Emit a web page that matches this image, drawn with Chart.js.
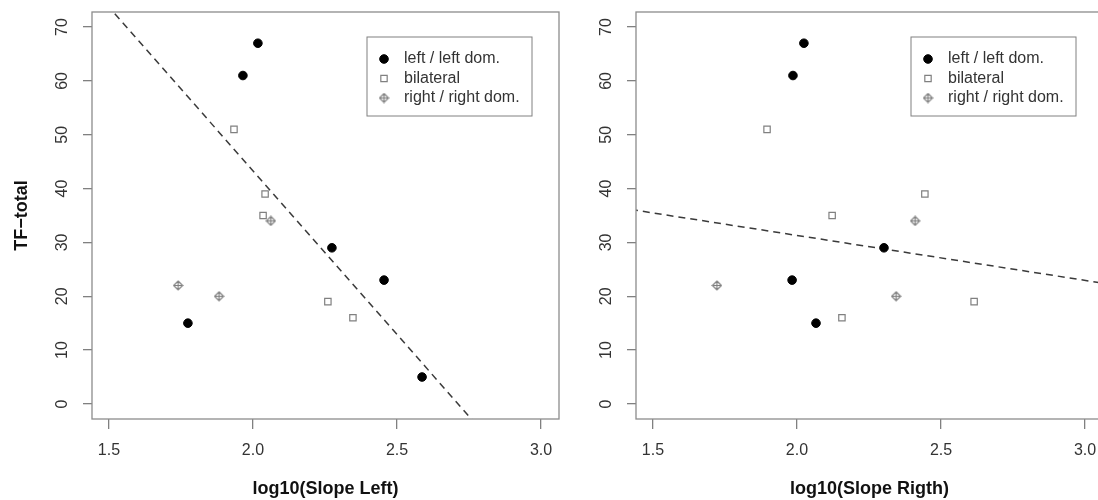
<!DOCTYPE html>
<html>
<head>
<meta charset="utf-8">
<script src="https://cdn.jsdelivr.net/npm/chart.js@4"></script>
<style>
  html, body { margin: 0; padding: 0; background: #fff; overflow: hidden; }
  body { width: 1098px; height: 500px; position: relative; }
  .panel { position: absolute; top: 0; height: 500px; }
  #leftPanel { left: 0; width: 580px; }
  #rightPanel { left: 580px; width: 530px; }
</style>
</head>
<body>
<div class="panel" id="leftPanel"><canvas id="slopeLeft"></canvas></div>
<div class="panel" id="rightPanel"><canvas id="slopeRight"></canvas></div>
<script>
const groupNames = ['left / left dom.', 'bilateral', 'right / right dom.'];
const xTicks = [1.5, 2.0, 2.5, 3.0];
const yTicks = [0, 10, 20, 30, 40, 50, 60, 70];

// log10(Slope Left) vs TF-total
const leftDomSlopeL = [1.965, 2.017, 1.774, 2.274, 2.455, 2.587];
const leftDomTfL = [61, 67, 15, 29, 23, 5];
const bilatSlopeL = [1.934, 2.042, 2.035, 2.260, 2.347];
const bilatTfL = [51, 39, 35, 19, 16];
const rightDomSlopeL = [2.062, 1.740, 1.882];
const rightDomTfL = [34, 22, 20];

// log10(Slope Rigth) vs TF-total
const leftDomSlopeR = [2.024, 1.986, 1.983, 2.066, 2.302];
const leftDomTfR = [67, 61, 23, 15, 29];
const bilatSlopeR = [1.896, 2.122, 2.444, 2.156, 2.615];
const bilatTfR = [51, 35, 39, 16, 19];
const rightDomSlopeR = [1.722, 2.410, 2.344];
const rightDomTfR = [22, 34, 20];

// dashed fit lines: [intercept, slope]
const fitLeft = [164.9, -60.8];
const fitRight = [48.0, -8.35];

Chart.defaults.font.family = '"Liberation Sans", Arial, sans-serif';

const toPoints = (xs, ys) => xs.map((x, i) => ({x: x, y: ys[i]}));

// open diamond with a cross inside
const diamondPlus = (() => {
  const c = document.createElement('canvas');
  c.width = c.height = 11;
  const g = c.getContext('2d');
  g.strokeStyle = '#808080';
  g.lineWidth = 1.2;
  g.beginPath();
  g.moveTo(5.5, 1); g.lineTo(10, 5.5); g.lineTo(5.5, 10); g.lineTo(1, 5.5); g.closePath();
  g.moveTo(5.5, 1); g.lineTo(5.5, 10);
  g.moveTo(1, 5.5); g.lineTo(10, 5.5);
  g.stroke();
  return c;
})();

const groupStyles = [
  {pointStyle: 'circle', radius: 4.3, backgroundColor: '#000', borderColor: '#000', borderWidth: 1},
  {pointStyle: 'rect', radius: 4.5, backgroundColor: '#fff', borderColor: '#808080', borderWidth: 1.2},
  {pointStyle: diamondPlus, radius: 5, backgroundColor: '#fff', borderColor: '#808080', borderWidth: 1.2}
];

function groupDataset(i, xs, ys) {
  const s = groupStyles[i];
  return {
    type: 'scatter',
    label: groupNames[i],
    data: toPoints(xs, ys),
    pointStyle: s.pointStyle,
    pointRadius: s.radius,
    backgroundColor: s.backgroundColor,
    borderColor: s.borderColor,
    borderWidth: s.borderWidth
  };
}

function fitDataset(coef) {
  const xs = [1.3, 3.2];
  return {
    type: 'line',
    label: 'fit',
    data: xs.map(x => ({x: x, y: coef[0] + coef[1] * x})),
    borderColor: '#3a3a3a',
    borderWidth: 1.5,
    borderDash: [7, 5],
    pointRadius: 0,
    fill: false
  };
}

// plot box and the inset legend
const frame = {
  id: 'frame',
  afterDatasetsDraw(chart) {
    const {ctx, chartArea: a} = chart;
    ctx.save();
    ctx.strokeStyle = '#8c8c8c';
    ctx.lineWidth = 1.3;
    ctx.strokeRect(a.left, a.top, a.right - a.left, a.bottom - a.top);

    const bw = 165, bh = 79;
    const bx = a.right - 27 - bw, by = a.top + 25;
    ctx.fillStyle = '#fff';
    ctx.fillRect(bx, by, bw, bh);
    ctx.strokeStyle = '#808080';
    ctx.lineWidth = 1;
    ctx.strokeRect(bx, by, bw, bh);
    ctx.font = '16px "Liberation Sans", Arial, sans-serif';
    ctx.textBaseline = 'middle';
    groupNames.forEach((name, i) => {
      const y = by + 22 + i * 19.5;
      const s = groupStyles[i];
      ctx.fillStyle = s.backgroundColor;
      ctx.strokeStyle = s.borderColor;
      ctx.lineWidth = s.borderWidth;
      Chart.helpers.drawPoint(ctx, {pointStyle: s.pointStyle, radius: s.radius, borderWidth: s.borderWidth}, bx + 17, y);
      ctx.fillStyle = '#333';
      ctx.fillText(name, bx + 37, y);
    });
    ctx.restore();
  }
};

function panelOptions(xTitle, yWidth, showYTitle, padding) {
  return {
    responsive: true,
    maintainAspectRatio: false,
    animation: false,
    layout: {padding: padding},
    plugins: {legend: {display: false}, tooltip: {enabled: false}},
    scales: {
      x: {
        type: 'linear',
        min: 1.441,
        max: 3.0625,
        afterBuildTicks: s => { s.ticks = xTicks.map(v => ({value: v})); },
        afterFit: s => { s.height = 81; s.paddingLeft = 0; s.paddingRight = 0; },
        grid: {drawOnChartArea: false, tickLength: 10, color: '#808080', lineWidth: 1.3},
        border: {display: false},
        ticks: {padding: 12, color: '#333', font: {size: 16}, maxRotation: 0, autoSkip: false,
          callback: v => v.toFixed(1)},
        title: {display: true, text: xTitle, color: '#111', font: {size: 18, weight: 'bold'},
          padding: {top: 0, bottom: 0}}
      },
      y: {
        type: 'linear',
        min: -2.8,
        max: 72.8,
        afterBuildTicks: s => { s.ticks = yTicks.map(v => ({value: v})); },
        afterFit: s => { s.width = yWidth; s.paddingTop = 0; s.paddingBottom = 0; },
        grid: {drawOnChartArea: false, tickLength: 9, color: '#808080', lineWidth: 1.3},
        border: {display: false},
        ticks: {padding: 12, color: '#333', font: {size: 16}, minRotation: 90, maxRotation: 90,
          crossAlign: 'center', autoSkip: false},
        title: {display: showYTitle, text: 'TF\u2212total', color: '#111', font: {size: 18, weight: 'bold'},
          padding: {top: 11, bottom: 0}}
      }
    }
  };
}

new Chart(document.getElementById('slopeLeft'), {
  type: 'scatter',
  data: {
    datasets: [
      groupDataset(0, leftDomSlopeL, leftDomTfL),
      groupDataset(1, bilatSlopeL, bilatTfL),
      groupDataset(2, rightDomSlopeL, rightDomTfL),
      fitDataset(fitLeft)
    ]
  },
  options: panelOptions('log10(Slope Left)', 92, true, {top: 12, right: 21, left: 0, bottom: 0}),
  plugins: [frame]
});

new Chart(document.getElementById('slopeRight'), {
  type: 'scatter',
  data: {
    datasets: [
      groupDataset(0, leftDomSlopeR, leftDomTfR),
      groupDataset(1, bilatSlopeR, bilatTfR),
      groupDataset(2, rightDomSlopeR, rightDomTfR),
      fitDataset(fitRight)
    ]
  },
  options: panelOptions('log10(Slope Rigth)', 56, false, {top: 12, right: 7, left: 0, bottom: 0}),
  plugins: [frame]
});
</script>
</body>
</html>
